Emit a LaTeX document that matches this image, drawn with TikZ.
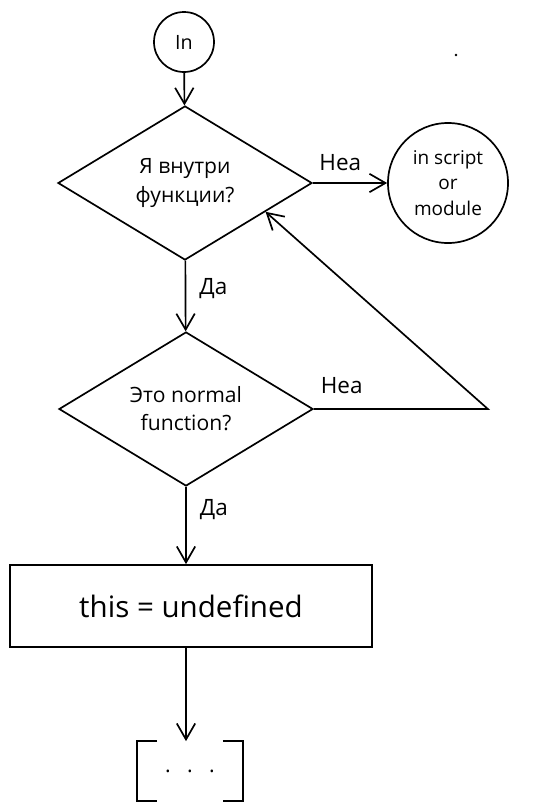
\documentclass[tikz,border=0pt]{standalone}
\usepackage{fontspec}
\setmainfont{Open Sans}
\usetikzlibrary{calc,shapes,positioning,arrows.meta}

\begin{document}
\begin{tikzpicture}[x=0.025cm,y=-0.025cm]

     \tikzstyle{every node}=[line width=1.2pt,font=\fontsize{15}{20}\selectfont]
     \tikzstyle{q}=[draw,diamond,aspect=1.66,minimum width=6.35cm,minimum height=3.85cm,align=center,inner sep=1pt]
     \tikzstyle{lbl}=[draw=none,font=\fontsize{16}{18}\selectfont]
     \tikzstyle{go}=[line width=1.2pt,-{Straight Barb[length=4mm,width=4.6mm]}]
     \useasboundingbox (0,0) rectangle (547,810);
     \node at (184,42)[draw,circle,minimum size=1.5cm,font=\fontsize{14}{16}\selectfont](start){In};
     \node at (185,183)[q](q1){Я внутри\\функции?};
     \node at ($(q1)+(263,0)$)[draw,circle,minimum size=3cm,align=center,font=\fontsize{13.5}{18}\selectfont](out){in script\\or\\module};
     \node at ($(q1)+(1,226)$)[q](q2){Это normal\\function?};
     \node at ($(q2)+(5,197)$)[draw,rectangle,minimum width=9.05cm,minimum height=2.05cm,font=\fontsize{21}{24}\selectfont](act){this = undefined};
     \node at ($(act)+(-1,165)$)[minimum width=2.6cm,minimum height=1.45cm](rest){.~~~.~~~.};
     \node at (456,55)[circle,fill,inner sep=0pt,minimum size=2pt](speck){};
     \coordinate (turn) at ($(q2.east)+(174,0)$);
     \coordinate (back) at ($(q1.east)!0.37!(q1.south)$);
     \draw[go](start)--(q1);
     \draw[go](q1)--node[lbl,above,pos=0.37,yshift=5pt]{Неа}(out);
     \draw[go](q1)--node[lbl,right,xshift=6pt,pos=0.4]{Да}(q2);
     \draw[go](q2.east)--node[lbl,above,pos=0.16,yshift=7pt]{Неа}(turn)--(back);
     \draw[go](q2.south)--node[lbl,right,xshift=6pt,pos=0.3]{Да}(q2.south |- act.north);
     \draw[go](q2.south |- act.south)--(q2.south |- rest.north);
     \draw[line width=1.2pt]($(rest.north west)+(20,0)$)--(rest.north west)--(rest.south west)--++(20,0);
     \draw[line width=1.2pt]($(rest.north east)+(-20,0)$)--(rest.north east)--(rest.south east)--++(-20,0);

\end{tikzpicture}
\end{document}
